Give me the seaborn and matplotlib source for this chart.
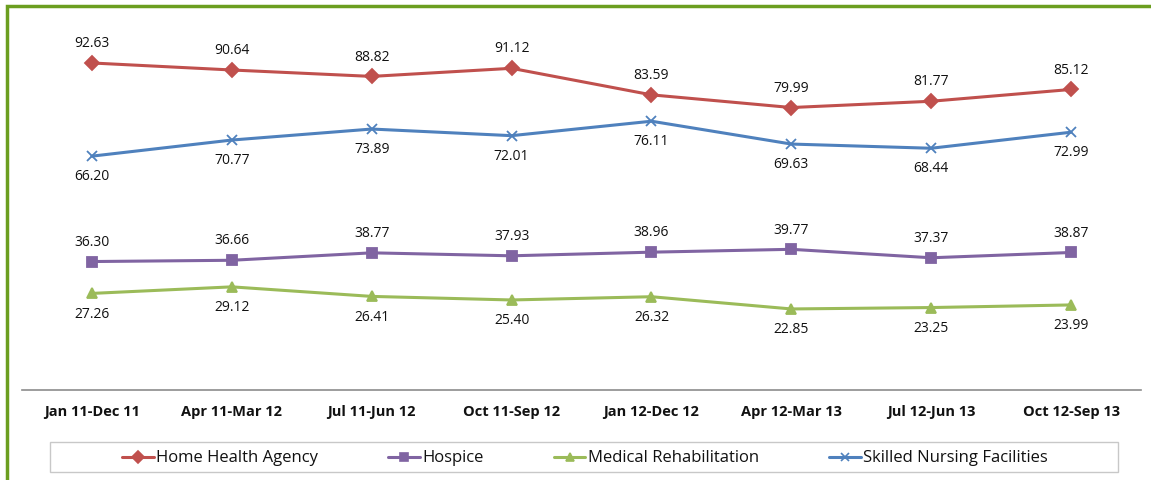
import matplotlib
matplotlib.use("Agg")
import matplotlib.pyplot as plt
from matplotlib.patches import Rectangle
import seaborn as sns
import pandas as pd

periods = ["Jan 11-Dec 11", "Apr 11-Mar 12", "Jul 11-Jun 12", "Oct 11-Sep 12",
           "Jan 12-Dec 12", "Apr 12-Mar 13", "Jul 12-Jun 13", "Oct 12-Sep 13"]
home_health = [92.63, 90.64, 88.82, 91.12, 83.59, 79.99, 81.77, 85.12]
hospice = [36.30, 36.66, 38.77, 37.93, 38.96, 39.77, 37.37, 38.87]
medical_rehab = [27.26, 29.12, 26.41, 25.40, 26.32, 22.85, 23.25, 23.99]
skilled_nursing = [66.20, 70.77, 73.89, 72.01, 76.11, 69.63, 68.44, 72.99]

series_names = ["Home Health Agency", "Hospice", "Medical Rehabilitation",
                "Skilled Nursing Facilities"]
series_values = [home_health, hospice, medical_rehab, skilled_nursing]
colors = ["#C0504D", "#8064A2", "#9BBB59", "#4F81BD"]
markers = ["D", "s", "^", "x"]
label_above = [True, True, False, False]

sns.set_style("white")
plt.rcParams["font.family"] = ["Open Sans", "DejaVu Sans"]

W, H = 1151, 480
fig = plt.figure(figsize=(W / 100, H / 100), dpi=100)
ax = fig.add_axes([22 / W, 1 - 389.5 / H, (1141 - 22) / W, (389.5 - 37) / H])

for name, vals, c, m in zip(series_names, series_values, colors, markers):
    df = pd.DataFrame({"pos": range(len(vals)), "value": vals})
    sns.lineplot(data=df, x="pos", y="value", color=c, marker=m,
                 linewidth=2.2, markersize=7.5, markeredgewidth=1.3,
                 markeredgecolor=c, markerfacecolor=c, ax=ax, label=name,
                 legend=False)

# value labels
for vals, above in zip(series_values, label_above):
    for i, v in enumerate(vals):
        ax.annotate(f"{v:.2f}", (i, v), xytext=(0, 8.5 if above else -9.5),
                    textcoords="offset points", ha="center",
                    va="bottom" if above else "top", fontsize=10, color="#111111")

ax.set_xlim(-0.5, len(periods) - 0.5)
ax.set_ylim(0, 100)
ax.set_xticks(range(len(periods)))
ax.set_xticklabels(periods, fontsize=10.5, fontweight="bold", color="#111111")
ax.tick_params(axis="x", length=0, pad=11)
ax.set_yticks([])
ax.set_xlabel("")
ax.set_ylabel("")
for side in ["top", "right", "left"]:
    ax.spines[side].set_visible(False)
ax.spines["bottom"].set_color("#8C8C8C")
ax.spines["bottom"].set_linewidth(1.2)

# legend box
fig.patches.append(Rectangle((50 / W, 1 - 472 / H), (1118 - 50) / W, 30 / H,
                             transform=fig.transFigure, fill=False,
                             edgecolor="#C8C8C8", linewidth=1.0))
handles = [plt.Line2D([], [], color=c, marker=m, linewidth=2.2, markersize=6,
                      markeredgewidth=1.2, markerfacecolor=c, markeredgecolor=c)
           for c, m in zip(colors, markers)]
leg = fig.legend(handles, series_names, loc="center", ncol=4,
                 bbox_to_anchor=(585 / W, 1 - 458.5 / H),
                 fontsize=12, frameon=False, handlelength=1.9,
                 handletextpad=0.15, columnspacing=4.2, borderaxespad=0)
for t in leg.get_texts():
    t.set_color("#111111")

# outer green frame
fig.patches.append(Rectangle((7 / W, -0.1), 1.2, 1 - 6 / H + 0.1,
                             transform=fig.transFigure, fill=False,
                             edgecolor="#6B9E1F", linewidth=2.5))

fig.savefig("out.png", dpi=100)
